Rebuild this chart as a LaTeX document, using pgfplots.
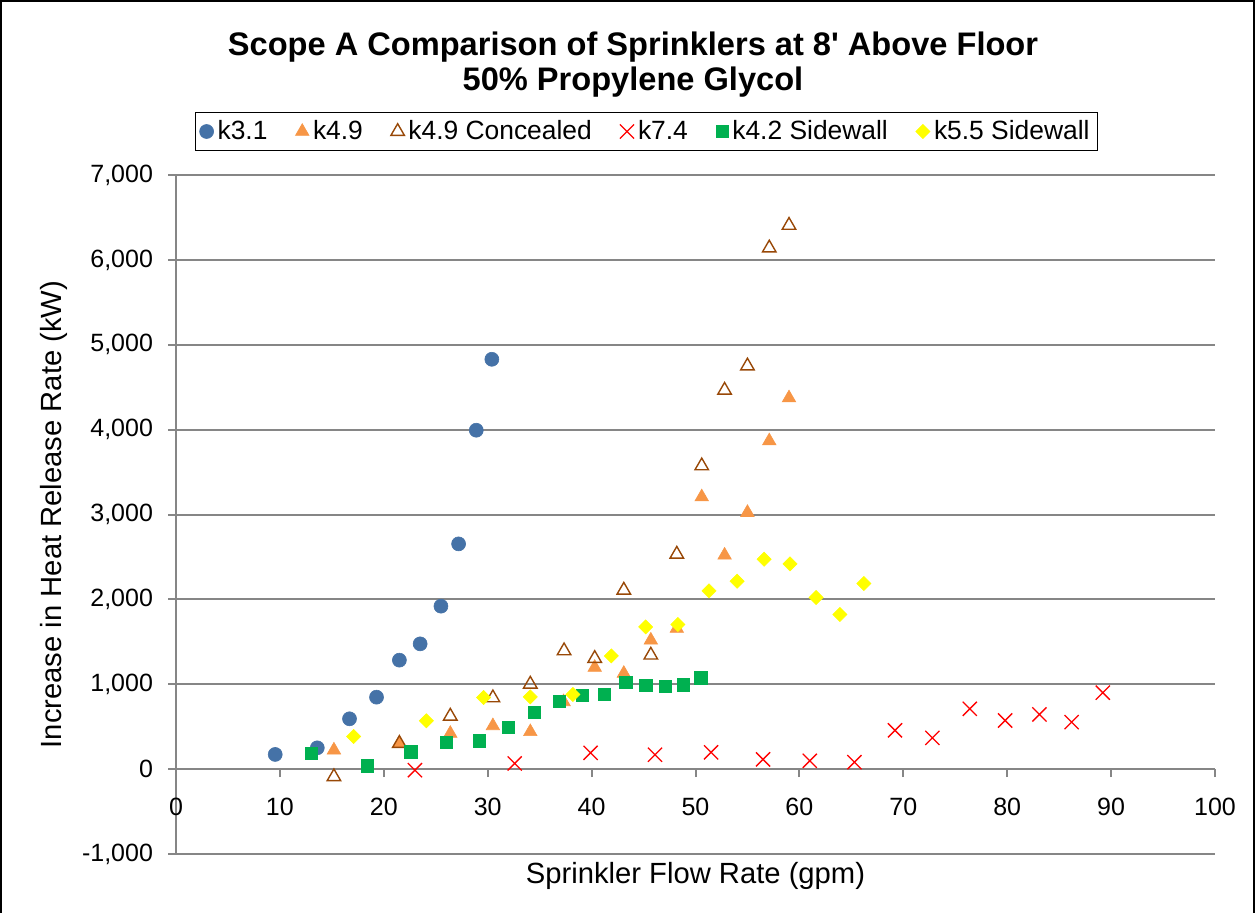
\documentclass[border=0pt]{standalone}
\usepackage{fontspec}
\setmainfont{Liberation Sans}
\newfontfamily\plainsans{Liberation Sans}
\usepackage{pgfplots}
\pgfplotsset{compat=1.18}
\definecolor{cblue}{RGB}{69,114,167}
\definecolor{corange}{RGB}{247,150,70}
\definecolor{cbrown}{RGB}{152,72,7}
\definecolor{cgreen}{RGB}{0,176,80}
\definecolor{cyellow}{RGB}{255,255,0}
\definecolor{cgrid}{RGB}{134,134,134}
\begin{document}
\begin{tikzpicture}[x=1pt,y=1pt]
\useasboundingbox (0,0) rectangle (627.5,456);
\draw[black,line width=0.6pt] (0.5,-2) -- (0.5,455.5) -- (627,455.5) -- (627,-2);
\node[font=\plainsans\bfseries\fontsize{16.3}{19}\selectfont,anchor=base] at (316.5,428) {Scope A Comparison of Sprinklers at 8' Above Floor};
\node[font=\plainsans\bfseries\fontsize{16.3}{19}\selectfont,anchor=base] at (316.5,410.5) {50\% Propylene Glycol};
\begin{axis}[
  at={(88pt,29pt)}, anchor=south west,
  scale only axis, width=519.5pt, height=339.5pt,
  xmin=0, xmax=100, ymin=-1000, ymax=7000,
  xtick={0,10,...,100}, ytick={-1000,0,...,7000},
  axis x line=middle, axis y line=left,
  axis line style={-, draw=cgrid, line width=1pt},
  tick align=outside,
  major tick length=4pt,
  tick style={draw=cgrid, line width=1pt},
  ymajorgrids, grid style={draw=cgrid, line width=1pt},
  hide obscured x ticks=false, hide obscured y ticks=false,
  ticklabel style={font=\fontsize{12.5}{15}\selectfont},
  xticklabel style={yshift=-7pt},
  yticklabel style={xshift=-4pt},
  /pgf/number format/assume math mode=true,
  /pgf/number format/1000 sep={,},
  xlabel={Sprinkler Flow Rate (gpm)},
  ylabel={Increase in Heat Release Rate (kW)},
  every axis x label/.style={at={(axis description cs:0.5,-0.0432)}, anchor=base, font=\fontsize{14.6}{17}\selectfont},
  every axis y label/.style={at={(axis description cs:-0.110,0.5)}, rotate=90, anchor=base, font=\fontsize{14.6}{17}\selectfont},
  legend columns=6,
  legend style={at={(axis description cs:0.0183,1.0641)}, anchor=west, draw=black, line width=0.6pt,
    font=\fontsize{13.2}{15}\selectfont, inner xsep=2pt, inner ysep=2pt,
    /tikz/every even column/.append style={column sep=12pt}},
  legend image code/.code={\draw[#1] plot coordinates {(0pt,0pt)};},
]
\addplot[only marks, mark=*, mark size=3.5pt, color=cblue, mark options={fill=cblue, draw=cblue, line width=0.3pt}] coordinates {
(9.55,173)(13.6,251)(16.7,593)(19.3,848)(21.5,1284)(23.5,1476)(25.5,1920)(27.2,2654)(28.9,3993)(30.4,4829)};
\addlegendentry{k3.1}
\addplot[only marks, mark=triangle*, mark size=3.9pt, color=corange, mark options={fill=corange, draw=corange, line width=0.3pt}] coordinates {
(15.2,224)(21.5,303)(26.4,420)(30.5,510)(34.1,440)(37.3,793)(40.3,1198)(43.1,1127)(45.7,1519)(48.2,1657)(50.6,3207)(52.8,2520)(55.0,3023)(57.1,3867)(59.0,4373)};
\addlegendentry{k4.9}
\addplot[only marks, mark=triangle, mark size=3.9pt, color=cbrown, mark options={draw=cbrown, line width=0.7pt}] coordinates {
(15.2,-90)(21.5,303)(26.4,624)(30.5,840)(34.1,1001)(37.35,1394)(40.3,1304)(43.1,2108)(45.7,1343)(48.2,2532)(50.6,3573)(52.8,4464)(55.0,4750)(57.1,6140)(59.0,6407)};
\addlegendentry{k4.9 Concealed}
\addplot[only marks, mark=x, mark size=5pt, color=red, mark options={draw=red, line width=0.65pt}] coordinates {
(23.0,-12)(32.6,67)(39.9,192)(46.1,170)(51.5,198)(56.5,115)(61.0,98)(65.3,82)(69.2,457)(72.8,368)(76.4,711)(79.8,573)(83.1,644)(86.2,553)(89.2,901)};
\addlegendentry{k7.4}
\addplot[only marks, mark=square*, mark size=3.1pt, color=cgreen, mark options={fill=cgreen, draw=cgreen, line width=0.3pt}] coordinates {
(13.0,185)(18.4,39)(22.6,204)(26.0,314)(29.2,333)(32.0,491)(34.5,667)(36.9,801)(39.1,872)(41.2,880)(43.3,1021)(45.2,986)(47.1,978)(48.8,993)(50.5,1076)};
\addlegendentry{k4.2 Sidewall}
\addplot[only marks, mark=square*, mark size=2.5pt, color=cyellow, mark options={rotate=45, fill=cyellow, draw=cyellow, line width=0.3pt}] coordinates {
(17.1,385)(24.1,569)(29.6,844)(34.1,851)(38.2,880)(41.9,1334)(45.2,1676)(48.3,1704)(51.3,2100)(54.0,2214)(56.6,2473)(59.1,2418)(61.6,2022)(63.9,1822)(66.2,2187)};
\addlegendentry{k5.5 Sidewall\hspace{6pt}}
\end{axis}
\end{tikzpicture}
\end{document}
